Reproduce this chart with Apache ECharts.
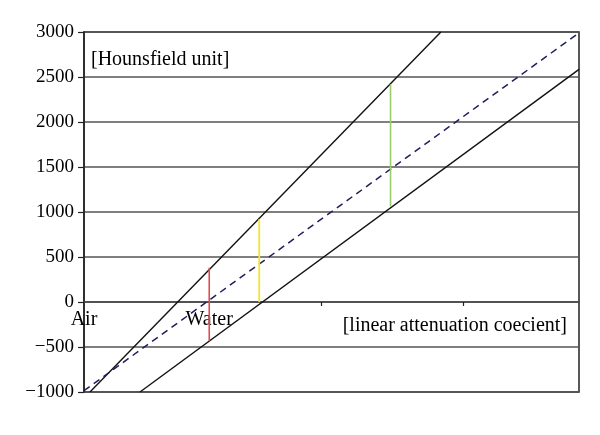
<!DOCTYPE html>
<html>
<head>
<meta charset="utf-8">
<script src="https://cdn.jsdelivr.net/npm/echarts@6/dist/echarts.min.js"></script>
<style>html,body{margin:0;padding:0;background:#fff}#c{width:600px;height:435px}</style>
</head>
<body>
<div id="c"></div>
<script>
// x in arbitrary units of linear attenuation coefficient, y in Hounsfield units
var yTicks = [-1000, -500, 0, 500, 1000, 1500, 2000, 2500, 3000];
var xTickValues = [1.665, 2.665];
var upperLine = [[0.042, -1000], [2.509, 3000]];
var midLine = [[0, -985], [3.48, 2990]];
var lowerLine = [[0.3935, -1000], [3.48, 2585]];
var redBar = [[0.8805, -430], [0.8805, 380]];
var yellowBar = [[1.232, 0], [1.232, 920]];
var greenBar = [[2.155, 1060], [2.155, 2420]];
var pointLabels = [['Air', 0, -195], ['Water', 0.88, -195]];

var serif = '"Liberation Serif", "DejaVu Serif", serif';
var chart = echarts.init(document.getElementById('c'));
function seg(data, color, type, width) {
  return {
    type: 'line', data: data, symbol: 'none', silent: true, animation: false,
    lineStyle: {color: color, width: width || 1.4, type: type || 'solid', dashOffset: 0}
  };
}
var series = [
  seg(upperLine, '#111'),
  seg(midLine, '#1f1f5c', [7, 5], 1.5),
  seg(lowerLine, '#111'),
  seg(redBar, '#e04a4a', 'solid', 1.6),
  seg(yellowBar, '#f5e52a', 'solid', 1.8),
  seg(greenBar, '#9ccc6a', 'solid', 1.6),
  {
    type: 'scatter', symbolSize: 0, silent: true, animation: false,
    itemStyle: {opacity: 1},
    data: pointLabels.map(function (p) { return {name: p[0], value: [p[1], p[2]]}; }),
    label: {show: true, position: 'inside', formatter: '{b}', color: '#000', opacity: 1,
      fontFamily: serif, fontSize: 20}
  }
];
chart.setOption({
  animation: false,
  grid: {left: 84, right: 21, top: 32, bottom: 43, show: true,
    borderColor: '#222', borderWidth: 1.5, backgroundColor: 'transparent'},
  xAxis: {
    type: 'value', min: 0, max: 3.48,
    axisLine: {show: true, onZero: true, lineStyle: {color: '#444', width: 1.5}},
    axisTick: {show: true, customValues: xTickValues, length: 4, inside: false,
      lineStyle: {color: '#222', width: 1.2}},
    axisLabel: {show: false},
    splitLine: {show: false}
  },
  yAxis: {
    type: 'value', min: -1000, max: 3000, interval: 500,
    axisLine: {show: true, lineStyle: {color: '#222', width: 1.5}},
    axisTick: {show: true, length: 6, lineStyle: {color: '#222', width: 1.2}},
    axisLabel: {color: '#000', fontFamily: serif, fontSize: 19, margin: 10,
      formatter: function (v) { return v < 0 ? '\u2212' + Math.abs(v) : String(v); }},
    splitLine: {show: true, lineStyle: {color: '#555', width: 1.5}}
  },
  graphic: [
    {type: 'text', left: 91, top: 50, style: {text: '[Hounsfield unit]', font: '20px ' + serif, fill: '#000'}},
    {type: 'text', right: 33, top: 316, style: {text: '[linear attenuation coecient]', font: '20px ' + serif, fill: '#000'}}
  ],
  series: series
});
</script>
</body>
</html>
